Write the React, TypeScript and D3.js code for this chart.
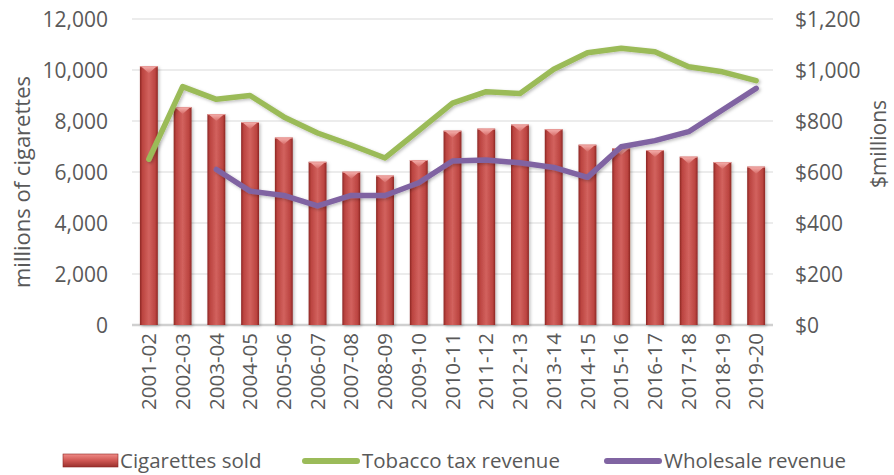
import React from "react";
import * as d3 from "d3";

// fiscal years
const years = [
  "2001-02", "2002-03", "2003-04", "2004-05", "2005-06", "2006-07", "2007-08",
  "2008-09", "2009-10", "2010-11", "2011-12", "2012-13", "2013-14", "2014-15",
  "2015-16", "2016-17", "2017-18", "2018-19", "2019-20",
];

// millions of cigarettes
const cigarettesSold = [
  10150, 8550, 8270, 7960, 7350, 6400, 6010, 5860, 6470, 7620, 7700, 7860,
  7680, 7070, 6930, 6860, 6600, 6390, 6210,
];

// $millions
const taxRevenue = [
  650, 935, 885, 900, 816, 753, 706, 655, 762, 870, 915, 908, 1003, 1068,
  1085, 1072, 1013, 993, 958,
];

// $millions, no data before 2003-04
const wholesaleRevenue: (number | null)[] = [
  null, null, 610, 525, 508, 467, 508, 508, 558, 643, 647, 636, 618, 579,
  699, 723, 758, 843, 928,
];

const leftTicks = [0, 2000, 4000, 6000, 8000, 10000, 12000];
const rightTicks = [0, 200, 400, 600, 800, 1000, 1200];

const legendItems = [
  { label: "Cigarettes sold", kind: "bar" },
  { label: "Tobacco tax revenue", kind: "tax" },
  { label: "Wholesale revenue", kind: "wholesale" },
];

const W = 894;
const H = 475;
const plot = { left: 132, right: 773, top: 19, bottom: 325 };
const FONT = "'Open Sans', sans-serif";
const TEXT = "#595959";
const GREEN = "#9bbb59";
const PURPLE = "#8064a2";

const App = () => {
  const x = d3
    .scaleBand<string>()
    .domain(years)
    .range([plot.left, plot.right])
    .paddingInner(0.47)
    .paddingOuter(0.235);

  const yLeft = d3.scaleLinear().domain([0, 12000]).range([plot.bottom, plot.top]);
  const yRight = d3.scaleLinear().domain([0, 1200]).range([plot.bottom, plot.top]);

  const cx = (y: string) => (x(y) ?? 0) + x.bandwidth() / 2;

  const lineGen = d3
    .line<{ year: string; v: number | null }>()
    .defined((d) => d.v != null)
    .x((d) => cx(d.year))
    .y((d) => yRight(d.v as number));

  const taxPath = lineGen(years.map((year, i) => ({ year, v: taxRevenue[i] }))) ?? "";
  const wholesalePath =
    lineGen(years.map((year, i) => ({ year, v: wholesaleRevenue[i] }))) ?? "";

  const bw = x.bandwidth();
  const fmt = d3.format(",");

  // legend positions
  const legendY = 461;
  const legendX = [63, 302, 604];
  const swatchW = [55, 58, 58];

  return (
    <svg
      width={W}
      height={H}
      style={{ position: "absolute", left: 0, top: 0, background: "#fff" }}
      fontFamily={FONT}
    >
      <defs>
        <linearGradient id="barGrad" x1="0" x2="1" y1="0" y2="0">
          <stop offset="0%" stopColor="#8c2623" />
          <stop offset="14%" stopColor="#bb4440" />
          <stop offset="50%" stopColor="#d2625e" />
          <stop offset="86%" stopColor="#bb4440" />
          <stop offset="100%" stopColor="#8c2623" />
        </linearGradient>
        <linearGradient id="capGrad" x1="0" x2="0" y1="0" y2="1">
          <stop offset="0%" stopColor="#f6b3b0" />
          <stop offset="100%" stopColor="#d66a66" />
        </linearGradient>
        <linearGradient id="legBar" x1="0" x2="0" y1="0" y2="1">
          <stop offset="0%" stopColor="#f08c88" />
          <stop offset="50%" stopColor="#cf5753" />
          <stop offset="100%" stopColor="#9a302c" />
        </linearGradient>
        <filter id="shadow" x="-30%" y="-10%" width="160%" height="130%">
          <feDropShadow dx="1.5" dy="1.5" stdDeviation="1.5" floodColor="#000" floodOpacity="0.25" />
        </filter>
      </defs>

      {/* gridlines */}
      {leftTicks.map((t) => (
        <line
          key={t}
          x1={plot.left}
          x2={plot.right}
          y1={yLeft(t)}
          y2={yLeft(t)}
          stroke={t === 0 ? "#d0d0d0" : "#d9d9d9"}
          strokeWidth={t === 0 ? 2.5 : 1.2}
        />
      ))}

      {/* bars */}
      {years.map((yr, i) => {
        const bx = x(yr) ?? 0;
        const top = yLeft(cigarettesSold[i]);
        const capH = 7;
        return (
          <g key={yr} filter="url(#shadow)">
            <rect x={bx} y={top} width={bw} height={plot.bottom - top} fill="url(#barGrad)" />
            <polygon
              points={`${bx + 1},${top} ${bx + bw - 1},${top} ${bx + bw / 2},${top + capH}`}
              fill="url(#capGrad)"
            />
            <line x1={bx} x2={bx + bw} y1={top + 0.5} y2={top + 0.5} stroke="#e89a97" strokeWidth={1} />
          </g>
        );
      })}

      {/* lines */}
      <g filter="url(#shadow)">
        <path d={taxPath} fill="none" stroke={GREEN} strokeWidth={5.5} strokeLinejoin="round" strokeLinecap="round" />
        <path d={wholesalePath} fill="none" stroke={PURPLE} strokeWidth={5.5} strokeLinejoin="round" strokeLinecap="round" />
      </g>

      {/* left axis */}
      {leftTicks.map((t) => (
        <text key={t} x={108} y={yLeft(t)} dy="0.36em" textAnchor="end" fontSize={21} fill={TEXT}>
          {fmt(t)}
        </text>
      ))}
      <text
        transform={`translate(22,${(plot.top + plot.bottom) / 2 + 10}) rotate(-90)`}
        textAnchor="middle"
        dy="0.35em"
        fontSize={22}
        fill={TEXT}
      >
        millions of cigarettes
      </text>

      {/* right axis */}
      {rightTicks.map((t) => (
        <text key={t} x={795} y={yRight(t)} dy="0.36em" textAnchor="start" fontSize={21} fill={TEXT}>
          {"$" + fmt(t)}
        </text>
      ))}
      <text
        transform={`translate(879,${(plot.top + plot.bottom) / 2 - 28}) rotate(-90)`}
        textAnchor="middle"
        dy="0.35em"
        fontSize={21}
        fill={TEXT}
      >
        $millions
      </text>

      {/* x axis labels */}
      {years.map((yr) => (
        <text
          key={yr}
          transform={`translate(${cx(yr)},${plot.bottom + 8}) rotate(-90)`}
          textAnchor="end"
          dy="0.35em"
          fontSize={20.5}
          fill={TEXT}
        >
          {yr}
        </text>
      ))}

      {/* legend */}
      {legendItems.map((item, i) => {
        const lx = legendX[i];
        const sw = swatchW[i];
        return (
          <g key={item.label}>
            {item.kind === "bar" ? (
              <rect x={lx} y={legendY - 7} width={sw} height={13} fill="url(#legBar)" stroke="#8c2623" strokeWidth={0.6} />
            ) : (
              <line
                x1={lx + 3}
                x2={lx + sw - 3}
                y1={legendY}
                y2={legendY}
                stroke={item.kind === "tax" ? GREEN : PURPLE}
                strokeWidth={6}
                strokeLinecap="round"
              />
            )}
            <text x={lx + sw + 2} y={legendY} dy="0.36em" fontSize={20.5} fill={TEXT}>
              {item.label}
            </text>
          </g>
        );
      })}
    </svg>
  );
};

export default App;
